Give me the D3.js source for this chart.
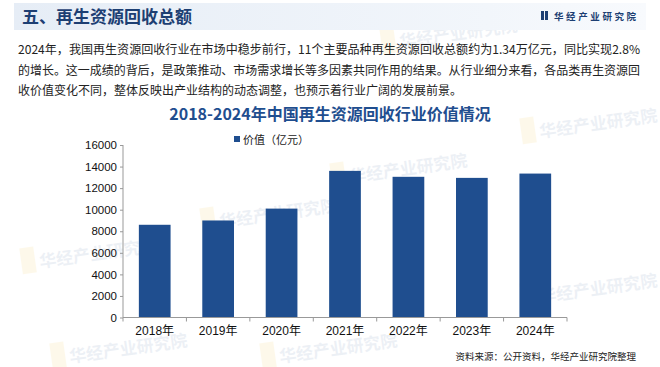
<!DOCTYPE html>
<html><head><meta charset="utf-8">
<script src="https://cdn.jsdelivr.net/npm/d3@7"></script>
<style>
html,body{margin:0;padding:0;background:#fff;}
svg{display:block;font-family:"Noto Sans CJK SC","Liberation Sans",sans-serif;}
</style></head>
<body><svg id="c" width="660" height="367"></svg>
<script>
const categories = ["2018年","2019年","2020年","2021年","2022年","2023年","2024年"];
const values = [8600, 9000, 10100, 13600, 13050, 12950, 13350];
const yTicks = [0,2000,4000,6000,8000,10000,12000,14000,16000];
const seriesName = "价值（亿元）";
const headerTitle = "五、再生资源回收总额";
const chartTitle = "2018-2024年中国再生资源回收行业价值情况";
const paragraph = [
  "2024年，我国再生资源回收行业在市场中稳步前行，11个主要品种再生资源回收总额约为1.34万亿元，同比实现2.8%",
  "的增长。这一成绩的背后，是政策推动、市场需求增长等多因素共同作用的结果。从行业细分来看，各品类再生资源回",
  "收价值变化不同，整体反映出产业结构的动态调整，也预示着行业广阔的发展前景。"
];
const source = "资料来源：公开资料，华经产业研究院整理";
const brand = "华经产业研究院";

const svg = d3.select("#c");
const defs = svg.append("defs");
const g1 = defs.append("linearGradient").attr("id","hdr").attr("x1","0").attr("x2","1");
g1.append("stop").attr("offset","0").attr("stop-color","#e6edf6");
g1.append("stop").attr("offset","0.75").attr("stop-color","#f2f6fb");
g1.append("stop").attr("offset","1").attr("stop-color","#f8fafd");

// watermarks
const wm = [[60,265],[420,45],[240,225],[370,180],[560,135],[560,300],[90,360],[300,360]];
wm.forEach(([x,y])=>{
  const w = svg.append("g").attr("transform",`translate(${x},${y}) rotate(-8)`).attr("opacity",0.08);
  w.append("rect").attr("x",-38).attr("y",-22).attr("width",14).attr("height",26).attr("fill","#f2b400");
  w.append("text").attr("x",-20).attr("y",0).attr("font-size",17).attr("font-weight","bold").attr("fill","#1f4e8f").text(brand);
});

// header band
svg.append("rect").attr("x",14).attr("y",3).attr("width",632).attr("height",27).attr("fill","url(#hdr)");
svg.append("text").attr("x",22).attr("y",23).attr("font-size",17).attr("font-weight","bold").attr("fill","#1d3f73").text(headerTitle);
svg.append("rect").attr("x",541).attr("y",11).attr("width",3).attr("height",9).attr("fill","#1d3f73");
svg.append("rect").attr("x",545).attr("y",11).attr("width",3).attr("height",9).attr("fill","#1d3f73");
svg.append("text").attr("x",554).attr("y",20).attr("font-size",9.5).attr("font-weight","bold").attr("letter-spacing",2.6).attr("fill","#1d3f73").text(brand);

// paragraph
paragraph.forEach((t,i)=>{
  svg.append("text").attr("x",18).attr("y",54+i*20.5).attr("font-size",12).attr("fill","#222")
    .attr("textLength", i<2 ? 622 : null).attr("lengthAdjust","spacingAndGlyphs").text(t);
});

// chart title
svg.append("text").attr("x",330).attr("y",120).attr("text-anchor","middle").attr("font-size",16)
  .attr("font-weight","bold").attr("fill","#1f4e8f").text(chartTitle);

// legend
svg.append("rect").attr("x",234).attr("y",136).attr("width",6).attr("height",6).attr("fill","#1f4e8f");
svg.append("text").attr("x",243).attr("y",143.5).attr("font-size",11).attr("fill","#222").text(seriesName);

// scales
const x = d3.scaleBand().domain(categories).range([123,567]).paddingInner(0.5).paddingOuter(0.25);
const y = d3.scaleLinear().domain([0,16000]).range([317.5,145]);

// bars
svg.append("g").selectAll("rect").data(values).join("rect")
  .attr("x",(d,i)=>x(categories[i])).attr("width",x.bandwidth())
  .attr("y",d=>y(d)).attr("height",d=>y(0)-y(d)).attr("fill","#1f4e8f");

// y axis
const ya = svg.append("g").attr("transform","translate(123,0)")
  .call(d3.axisLeft(y).tickValues(yTicks).tickSize(3).tickPadding(3).tickFormat(d3.format("d")));
ya.selectAll("text").attr("font-family","Liberation Sans, Arial, sans-serif").attr("font-size",11.5).attr("fill","#111");
ya.selectAll("line,path").attr("stroke","#999");
ya.select(".domain").attr("d","M0,145V317.5");

// x axis
const xa = svg.append("g").attr("transform","translate(0,317.5)")
  .call(d3.axisBottom(x).tickSize(0).tickPadding(9));
xa.select(".domain").attr("stroke","#999").attr("d","M123,0H567");
xa.selectAll("text").attr("font-family","Liberation Sans, Noto Sans CJK SC, sans-serif").attr("font-size",12).attr("fill","#111");
const bounds = categories.map(c=>x(c)-x.step()*x.paddingInner()/2).concat([567]);
xa.selectAll("line.b").data(bounds).join("line").attr("class","b")
  .attr("x1",d=>d).attr("x2",d=>d).attr("y1",0).attr("y2",4).attr("stroke","#999");

// source
svg.append("text").attr("x",636).attr("y",360).attr("text-anchor","end").attr("font-size",9.5).attr("fill","#222").text(source);
</script></body></html>
